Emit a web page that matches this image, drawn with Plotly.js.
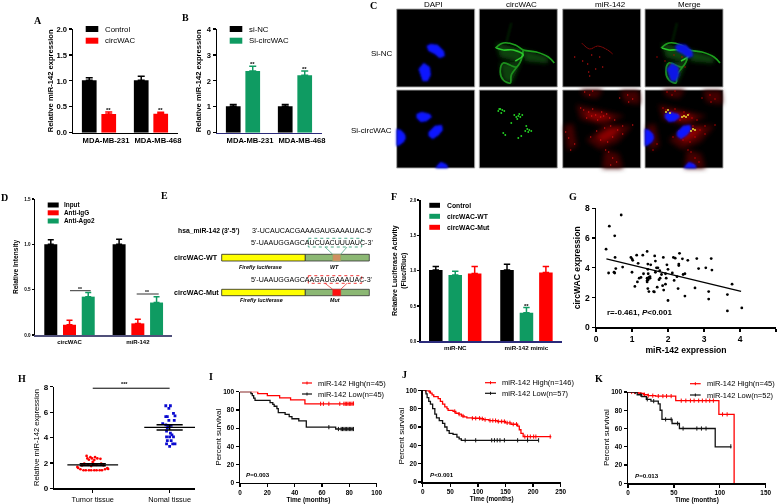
<!DOCTYPE html>
<html><head><meta charset="utf-8">
<script src="https://cdn.plot.ly/plotly-3.0.1.min.js"></script>
<style>html,body{margin:0;padding:0;background:#fff}#g{width:778px;height:504px;filter:blur(0.3px)}</style>
</head><body><div id="g"></div>
<script>
// ---------- data ----------
const cellLines=['MDA-MB-231','MDA-MB-468'];
const aControl=[1.01,1.01], aControlErr=[0.05,0.08];
const aCirc=[0.36,0.365], aCircErr=[0.04,0.03];
const bNC=[1.02,1.02], bNCErr=[0.07,0.07];
const bSi=[2.38,2.22], bSiErr=[0.18,0.16];
const dCats=['circWAC','miR-142'];
const dInput=[1.0,1.0], dInputErr=[0.05,0.055];
const dIgG=[0.113,0.128], dIgGErr=[0.05,0.045];
const dAgo=[0.423,0.358], dAgoErr=[0.047,0.065];
const fCats=['miR-NC','miR-142 mimic'];
const fCtrl=[1.01,1.01], fCtrlErr=[0.05,0.08];
const fWT=[0.94,0.405], fWTErr=[0.05,0.075];
const fMut=[0.96,0.975], fMutErr=[0.10,0.085];
const gX=[0.28,0.37,0.7,0.52,0.35,0.52,0.5,0.55,0.53,0.74,0.97,1.0,1.02,1.0,1.08,1.15,1.13,1.17,1.2,1.25,1.3,1.32,1.42,1.44,1.42,1.42,1.44,1.44,1.47,1.5,1.5,1.47,1.45,1.52,1.45,1.42,1.6,1.62,1.63,1.65,1.65,1.7,1.68,1.72,1.78,1.75,1.77,1.82,1.85,1.88,1.87,1.93,1.93,2.0,1.95,1.97,2.0,2.12,2.15,2.2,2.3,2.3,2.32,2.28,2.25,2.17,2.4,2.42,2.47,2.47,2.55,2.75,2.8,2.85,3.05,3.13,3.13,3.2,3.22,3.65,3.65,3.78,4.05];
const gY=[5.25,6.8,7.55,6.15,3.65,3.65,3.7,3.95,4.7,4.05,4.7,4.6,4.5,3.7,2.75,3.05,4.85,4.3,3.3,3.35,4.85,3.6,5.1,4.25,3.05,3.3,3.9,2.6,2.4,3.4,3.3,3.35,3.2,4.2,3.6,3.15,2.4,2.38,4.8,4.45,3.7,2.7,4.0,4.0,3.3,3.2,3.8,3.55,2.8,2.5,4.7,3.6,2.9,1.8,3.3,4.2,3.9,3.65,4.7,4.65,4.25,4.15,4.97,2.6,3.4,3.15,4.6,3.55,3.6,2.1,4.5,2.65,4.62,3.95,4.0,2.4,1.9,4.62,3.85,2.2,1.1,2.9,1.3];
const gFitX=[0.29,4.03], gFitY=[4.6,2.41];
const hCats=['Tumor tissue','Nomal tissue'];
const hTumorX=[-.12,-.09,-.05,-.02,.02,.05,.09,.12,-.16,.16,-.19,.19,-.2,.2,-.08,-.03,.03,-.07,-.01,.06,.1,-.05,.02,0,-.11,.11,-.14,.14,-.06,.05,-.02,.02];
const hTumor=[1.42,1.42,1.42,1.42,1.42,1.42,1.42,1.42,1.5,1.5,1.6,1.6,1.68,1.52,2.55,2.45,2.45,2.35,2.35,2.35,2.32,2.25,2.22,2.08,1.95,1.95,1.8,1.8,1.85,1.85,1.75,1.9];
const hNormalX=[-.05,.01,-.01,.05,-.05,-.03,.07,-.01,.06,-.09,-.05,-.02,.02,-.03,-.04,.01,.03,-.04,0,.05,-.03,.02,-.04,.04,.07,0];
const hNormal=[6.5,6.5,6.3,5.9,5.65,5.65,5.7,5.35,5.35,5.1,5.0,4.9,4.95,4.75,4.5,4.35,4.2,4.05,4.05,4.05,3.75,3.75,3.5,3.5,3.5,3.3];
const hMean=[1.85,4.8], hSem=[0.08,0.2];
const iHighT=[0,13,20,29,37,47.5,83], iHighS=[100,97.8,95.6,93.3,91.1,86.7,87];
const iLowT=[0,8,9,10,11,22,24,25,27,28,33,36,38,43,48.5,70,83], iLowS=[100,97.8,95.6,93,90.5,88,86,84,81.5,77,75,72.5,70.3,68,61,59,59];
const iHighC=[59,61,65,73,76,77,78,79,80,81,82,83], iLowC=[65,72,74,75,76,77,78,79,80,81,82,83];
const jHighT=[0,10,14,17,20,28,32,36,40,44,46,55,60,65,70,75,80,90,105,110,120,135,150,160,172,175,178,182,205,232];
const jHighS=[100,99,97,95,93,91,88,85,82,80,78,77,75,74,72,71,70,69.5,69,68,67,66,64.5,63,61,57,53,49.5,49.5,50];
const jLowT=[0,6,8,11,14,18,22,25,30,36,40,44,48,55,62,66,70,210];
const jLowS=[100,96,92,88,85,80,74,70,67,64,60,56,53,52,49,47,45.5,45.5];
const jHighC=[5,12,58,66,73,90,96,103,108,113,122,127,132,137,143,148,153,158,164,170,185,190,195,201,205,231];
const jLowC=[77,96,125,130,135,140,148,172,190,210];
const kHighT=[0,12,17,22,30,52,99,115.5,115.6], kHighS=[100,98.5,97,96,95.5,90.5,75.5,75.5,0];
const kLowT=[0,10,15,20,25,33,35,37,48,56,95,112], kLowS=[100,97,95,92,90,87,80,70,65.5,60,40,40.5];
const kHighC=[4,7,11,14,18,22,27,33,38,42,47,58,63,68,72,77,81,85,89,93,103,108];
const kLowC=[8,14,21,28,41,47,54,60,75,80,85,112];
// panel C: picture fragments, 0-78 inside each image
const dapiTop=[[30,37,34,35,41,36,47,42,48,47,43,49,38,45,32,42],[22,60,27,54,33,58,34,66,31,72,26,72,24,66]];
const dapiBot=[[20,24,25,22,33,24,35,27,30,31,24,32,20,28],[32,42,38,36,45,35,46,40,42,45,36,49,32,46],[0,39,4,40,8,44,9,48,7,52,3,55,0,56],[39,78,41,75,44,72,49,74,51,76,51,78]];
const greenHazeTop=[[17,34,44,41,41,53,21,48],[21,54,41,54,32,74,24,71],[44,41,69,48,68,54,46,52]];
const greenTopA=[16,39,24,34,36,36,44,41,57,43,69,48,75,54];
const greenTopB=[44,41,41,53,32,66,31,74,24,71,21,63,24,54,37,58,41,53];
const greenTopC=[17,39,24,41,34,41,44,46,36,52];
const greenTopD=[32,14,27,34];
const greenBotX=[19,21,23,25,22,20,35,37,39,41,43,38,40,46,48,50,52,49,39,42,24,26,32,47];
const greenBotY=[21,19,20,21,23,19,25,27,26,27,25,29,24,41,39,40,41,42,48,46,43,45,33,36];
const mergeX=[21,23,25,37,39,41,43,46,48,50];
const mergeY=[22,20,23,27,26,27,25,41,39,40];
const redTopLine=[19,34,27,40,35,37,45,41,50,45];
const redTopDotsX=[25,33,26,12,37,27,40,20,29];
const redTopDotsY=[55,60,63,48,48,67,58,52,46];
const redCells=[[14,15,35,20,61,26,40,35,18,29],[24,50,44,35,69,36,55,52,37,59],[58,1,76,1,77,14,62,12],[2,36,10,34,14,56,5,60],[42,60,56,64,60,78,40,78],[18,0,40,0,34,8,22,6]];
const redCores=[[22,22,40,24,50,28,35,30,25,27],[34,47,46,39,58,38,50,47,40,52]];
const redBotX=[18,21,26,29,33,38,41,44,47,35,30,24,39,52,28,34,42,48,55,60,38,45,50,3,6,12,8,46,50,54,48,65,70,66,22,30,27,70,60,43,57];
const redBotY=[18,20,22,26,25,27,26,24,28,30,19,28,22,30,47,41,38,36,40,36,50,52,47,42,48,54,60,62,68,72,75,5,9,12,2,1,5,35,44,60,8];
// ---------- helpers ----------
const W=778,H=504,FONT='Liberation Sans, Arial, sans-serif',SERIF='Liberation Serif, serif';
const RED='#ff0000',GREEN='#0f9b62',BLACK='#000000';
const layout={width:W,height:H,margin:{l:0,r:0,t:0,b:0,pad:0},paper_bgcolor:'#fff',plot_bgcolor:'rgba(0,0,0,0)',barmode:'overlay',showlegend:false,shapes:[],annotations:[],font:{family:FONT,color:'#000'}};
const traces=[];
const nm=(p,i)=>p+(i===1?'':i);
function panel(i,box,xo,yo){
  const [x0,x1,yt,yb]=box;
  const base={showgrid:false,zeroline:false,showline:true,linecolor:'#000',linewidth:1.5,ticks:'outside',ticklen:3,tickwidth:1.2,tickcolor:'#000'};
  layout[nm('xaxis',i)]=Object.assign({},base,{domain:[x0/W,x1/W],anchor:nm('y',i)},xo);
  layout[nm('yaxis',i)]=Object.assign({},base,{domain:[1-yb/H,1-yt/H],anchor:nm('x',i)},yo);
}
const tf=(s,bold,extra)=>Object.assign({family:FONT,size:s,color:'#000',weight:bold?700:400},extra||{});
const ttl=(text,s,bold,standoff)=>({text,font:tf(s,bold),standoff});
function ann(x,y,text,s,o){
  o=o||{};
  layout.annotations.push({xref:'paper',yref:'paper',x:x/W,y:1-y/H,text,showarrow:false,xanchor:o.a||'left',yanchor:'middle',borderpad:0,
    font:{family:o.f||FONT,size:s,color:o.c||'#000',weight:o.b?700:400,style:o.i?'italic':'normal'}});
}
function rect(x0,y0,x1,y1,fill,line,lw,dash){
  layout.shapes.push({type:'rect',xref:'x10',yref:'y10',x0,y0,x1,y1,fillcolor:fill,layer:'below',line:{color:line||fill,width:lw==null?0:lw,dash:dash||'solid'}});
}
function seg(x0,y0,x1,y1,c,w,dash){
  layout.shapes.push({type:'line',xref:'x10',yref:'y10',x0,y0,x1,y1,layer:'below',line:{color:c,width:w,dash:dash||'solid'}});
}
function bars(i,cats,series,spacing,width,capw){
  const n=series.length;
  series.forEach((s,k)=>{
    traces.push({type:'bar',name:s.name,x:cats,y:s.v,xaxis:nm('x',i),yaxis:nm('y',i),width,offset:(k-(n-1)/2)*spacing-width/2,
      marker:{color:s.c,line:{width:0}},
      error_y:{type:'data',symmetric:false,array:s.e,arrayminus:s.e.map(()=>0),color:s.c,thickness:1.5,width:capw}});
  });
}
function legendSwatch(x0,x1,y,h,c,tx,text,s,b){rect(x0,y-h/2,x1,y+h/2,c);ann(tx,y,text,s,{b});}
function km(i,name,T,S,C,color){
  const at=t=>{let v=S[0];for(let k=0;k<T.length;k++){if(T[k]<=t)v=S[k];}return v;};
  traces.push({type:'scatter',mode:'lines',name,x:T,y:S,xaxis:nm('x',i),yaxis:nm('y',i),line:{color,width:1.3,shape:'hv'}});
  traces.push({type:'scatter',mode:'markers',name:name+' censored',x:C,y:C.map(at),xaxis:nm('x',i),yaxis:nm('y',i),marker:{symbol:'line-ns',size:3,color,line:{color,width:1}}});
}
function kmLegend(x0,x1,y,c,tx,text){seg(x0,y,x1,y,c,1.2);seg((x0+x1)/2,y-1.5,(x0+x1)/2,y+1.5,c,1);ann(tx,y,text,7.5);}
// ---------- A ----------
panel(1,[73,178,29,132.7],{type:'category',range:[-0.5,1.52],ticks:'',tickfont:tf(7.6,true),ticklabelshift:7},
  {range:[0,2],tickvals:[0,.5,1,1.5,2],ticktext:['0.0','0.5','1.0','1.5','2.0'],tickfont:tf(7.6,true),title:ttl('Relative miR-142 expression',7.6,true,2)});
bars(1,cellLines,[{name:'Control',v:aControl,e:aControlErr,c:BLACK},{name:'circWAC',v:aCirc,e:aCircErr,c:RED}],.375,.283,3.5);
legendSwatch(85.7,98.3,29,6,BLACK,103.7,'Control',7.8);
legendSwatch(85.7,98.3,40.7,6,RED,103.7,'circWAC',7.8);
ann(108.5,110,'**',6,{a:'center',b:true});ann(160.5,110,'**',6,{a:'center',b:true});
// ---------- B ----------
panel(2,[217,322,29,132.7],{type:'category',range:[-0.5,1.52],ticks:'',tickfont:tf(7.6,true),ticklabelshift:7,linecolor:'#2a2a7a'},
  {range:[0,4],tickvals:[0,1,2,3,4],tickfont:tf(7.6,true),title:ttl('Relative miR-142 expression',7.6,true,4)});
bars(2,cellLines,[{name:'si-NC',v:bNC,e:bNCErr,c:BLACK},{name:'Si-circWAC',v:bSi,e:bSiErr,c:GREEN}],.375,.283,3.5);
legendSwatch(229.7,242.3,29,6,BLACK,248,'si-NC',7.8);
legendSwatch(229.7,242.3,40.7,6,GREEN,248,'Si-circWAC',7.8);
ann(252.5,64,'**',6,{a:'center',b:true});ann(304.5,69,'**',6,{a:'center',b:true});
// ---------- D ----------
panel(3,[35,172,199,335],{type:'category',range:[-0.505,1.5],ticks:'',tickfont:tf(6,true),linecolor:'#50507a'},
  {range:[0,1.5],tickvals:[0,.5,1,1.5],ticktext:['0.0','0.5','1.0','1.5'],tickfont:tf(4.6,true),ticklen:2,title:ttl('Relative Intensity',6.6,true,5)});
bars(3,dCats,[{name:'Input',v:dInput,e:dInputErr,c:BLACK},{name:'Anti-IgG',v:dIgG,e:dIgGErr,c:RED},{name:'Anti-Ago2',v:dAgo,e:dAgoErr,c:GREEN}],.274,.19,3);
legendSwatch(47.7,58.7,205,5,BLACK,63,'Input',6.4,true);
legendSwatch(47.7,58.7,212.8,5,RED,63,'Anti-IgG',6.4,true);
legendSwatch(47.7,58.7,221,5,GREEN,63,'Anti-Ago2',6.4,true);
seg(70,290.7,90.7,290.7,'#333',1);seg(136.7,294,158.7,294,'#333',1);
ann(80,288.5,'**',5,{a:'center',b:true});ann(146.7,292,'**',5,{a:'center',b:true});
// ---------- F ----------
panel(4,[420.7,561.7,200,341.3],{type:'category',range:[-0.485,1.495],ticks:'',tickfont:tf(6.2,true),linecolor:'#2a2a7a'},
  {range:[0,2],tickvals:[0,.5,1,1.5,2],ticktext:['0.0','0.5','1.0','1.5','2.0'],tickfont:tf(4.6,true),ticklen:2,title:ttl('Relative Luciferase Activity<br>(Fluc/Rluc)',7,true,2)});
bars(4,fCats,[{name:'Control',v:fCtrl,e:fCtrlErr,c:BLACK},{name:'circWAC-WT',v:fWT,e:fWTErr,c:GREEN},{name:'circWAC-Mut',v:fMut,e:fMutErr,c:RED}],.273,.19,3.2);
legendSwatch(429.3,440,205.3,5,BLACK,446,'Control',6.8,true);
legendSwatch(429.3,440,216.3,5,GREEN,446,'circWAC-WT',6.8,true);
legendSwatch(429.3,440,227.3,5,RED,446,'circWAC-Mut',6.8,true);
ann(526,305.5,'**',6,{a:'center',b:true});
// ---------- G ----------
panel(5,[596,776,208.3,327.3],{range:[0,5],tickvals:[0,1,2,3,4,5],tickfont:tf(8.5,true),title:ttl('miR-142 expression',8.6,true,4)},
  {range:[0,8],tickvals:[0,2,4,6,8],tickfont:tf(8.5,true),title:ttl('circWAC expression',8.6,true,3)});
traces.push({type:'scatter',mode:'markers',name:'samples',x:gX,y:gY,xaxis:'x5',yaxis:'y5',marker:{color:'#000',size:2.8}});
traces.push({type:'scatter',mode:'lines',name:'fit',x:gFitX,y:gFitY,xaxis:'x5',yaxis:'y5',line:{color:'#000',width:1.3}});
ann(606,312.7,'r=-0.461, <i>P</i><0.001',8,{b:true});
// ---------- H ----------
panel(6,[54.3,195,386.7,488.3],{range:[-0.5,1.33],tickvals:[0,1],ticktext:hCats,tickfont:tf(7.4,false)},
  {range:[0,8],tickvals:[0,2,4,6,8],tickfont:tf(8,true),title:ttl('Relative miR-142 expression',7.6,false,3)});
traces.push({type:'scatter',mode:'markers',name:'Tumor tissue',x:hTumorX,y:hTumor,xaxis:'x6',yaxis:'y6',marker:{color:RED,size:2.7,symbol:'circle'}});
traces.push({type:'scatter',mode:'markers',name:'Nomal tissue',x:hNormalX.map(v=>v+1),y:hNormal,xaxis:'x6',yaxis:'y6',marker:{color:'#0a0ad0',size:2.8,symbol:'square'}});
[0,1].forEach(c=>{
  const m=hMean[c],s=hSem[c];
  traces.push({type:'scatter',mode:'lines',name:'mean',x:[c-.33,c+.33],y:[m,m],xaxis:'x6',yaxis:'y6',line:{color:'#000',width:1.2}});
  traces.push({type:'scatter',mode:'lines',name:'sem',x:[c-.17,c+.17,null,c-.17,c+.17,null,c,c],y:[m+s,m+s,null,m-s,m-s,null,m-s,m+s],xaxis:'x6',yaxis:'y6',line:{color:'#000',width:1.5}});
});
traces.push({type:'scatter',mode:'lines',name:'bracket',x:[0,1],y:[7.88,7.88],xaxis:'x6',yaxis:'y6',line:{color:'#000',width:1},cliponaxis:false});
ann(124,384,'***',5.5,{a:'center',b:true});
// ---------- I ----------
panel(7,[240,376.7,391.7,482.7],{range:[0,100],tickvals:[0,20,40,60,80,100],tickfont:tf(6.4,true),title:ttl('Time (months)',6.4,true,2)},
  {range:[0,100],tickvals:[0,20,40,60,80,100],tickfont:tf(6.6,true),title:ttl('Percent survival',8,false,0)});
km(7,'miR-142 High(n=45)',iHighT,iHighS,iHighC,RED);
km(7,'miR-142 Low(n=45)',iLowT,iLowS,iLowC,'#111');
kmLegend(302,312,383,RED,317,'miR-142 High(n=45)');
kmLegend(302,312,394,'#111',317,'miR-142 Low(n=45)');
ann(245,474.7,'<i>P</i>=0.003',6.2,{b:true});
// ---------- J ----------
panel(8,[422.7,560.7,390.3,482],{range:[0,250],tickvals:[0,50,100,150,200,250],tickfont:tf(6.4,true),title:ttl('Time (months)',6.4,true,2)},
  {range:[0,100],tickvals:[0,20,40,60,80,100],tickfont:tf(6.6,true),title:ttl('Percent survival',8,false,0)});
km(8,'miR-142 High(n=146)',jHighT,jHighS,jHighC,RED);
km(8,'miR-142 Low(n=57)',jLowT,jLowS,jLowC,'#111');
kmLegend(485,496,382.7,RED,501,'miR-142 High(n=146)');
kmLegend(485,496,393.3,'#111',501,'miR-142 Low(n=57)');
ann(429,474,'<i>P</i><0.001',6.2,{b:true});
// ---------- K ----------
panel(9,[628,765.7,392,483.3],{range:[0,150],tickvals:[0,50,100,150],tickfont:tf(6.4,true),title:ttl('Time (months)',6.4,true,2)},
  {range:[0,100],tickvals:[0,20,40,60,80,100],tickfont:tf(6.6,true),title:ttl('Percent survival',8,false,0)});
km(9,'miR-142 High(n=45)',kHighT,kHighS,kHighC,RED);
km(9,'miR-142 Low(n=52)',kLowT,kLowS,kLowC,'#111');
kmLegend(690,700.7,383.7,RED,706,'miR-142 High(n=45)');
kmLegend(690,700.7,395,'#111',706,'miR-142 Low(n=52)');
ann(634,475,'<i>P</i>=0.013',6.2,{b:true});
// ---------- pixel-space overlay for panels C and E ----------
layout.xaxis10={domain:[0,1],range:[0,W],visible:false,anchor:'y10'};
layout.yaxis10={domain:[0,1],range:[H,0],visible:false,anchor:'x10'};
const colX=[396.7,479.3,562.7,645], rowY=[9,90], IM=78;
colX.forEach(x=>rowY.forEach(y=>rect(x,y,x+IM,y+IM,'#000','#a8a8a8',0.9)));
const overlayBlur=[];
function poly(ox,oy,list,color,name,blur){
  const xs=[],ys=[];
  list.forEach(p=>{for(let k=0;k<p.length;k+=2){xs.push(ox+p[k]);ys.push(oy+p[k+1]);}xs.push(ox+p[0]);ys.push(oy+p[1]);xs.push(null);ys.push(null);});
  traces.push({type:'scatter',mode:'lines',name,x:xs,y:ys,fill:'toself',fillcolor:color,line:{color,width:.5},xaxis:'x10',yaxis:'y10',connectgaps:false});
  overlayBlur.push(blur);
}
function path(ox,oy,p,color,w,name,blur){
  const xs=[],ys=[];for(let k=0;k<p.length;k+=2){xs.push(ox+p[k]);ys.push(oy+p[k+1]);}
  traces.push({type:'scatter',mode:'lines',name,x:xs,y:ys,line:{color,width:w,shape:'spline'},xaxis:'x10',yaxis:'y10'});
  overlayBlur.push(blur);
}
function dots(ox,oy,X,Y,color,s,name,blur){
  traces.push({type:'scatter',mode:'markers',name,x:X.map(v=>ox+v),y:Y.map(v=>oy+v),marker:{color,size:s},xaxis:'x10',yaxis:'y10'});
  overlayBlur.push(blur);
}
function greenTop(ox,oy){
  poly(ox,oy,greenHazeTop,'#0c420c','circWAC',2);
  path(ox,oy,greenTopD,'#0d400d',1,'circWAC',1);
  path(ox,oy,greenTopA,'#1fa01f',1.6,'circWAC',.7);
  path(ox,oy,greenTopB,'#1c8f1c',1.8,'circWAC',.7);
  path(ox,oy,greenTopC,'#2ac82a',1.6,'circWAC',.7);
}
function redBot(ox,oy){
  poly(ox,oy,redCells,'#420000','miR-142',2.6);
  poly(ox,oy,redCores,'#8a0000','miR-142',2);
  dots(ox,oy,redBotX,redBotY,'#e01010',1.4,'miR-142',.4);
}
poly(colX[0],rowY[0],dapiTop,'#0a14ff','DAPI',1);
poly(colX[0],rowY[1],dapiBot,'#0a14ff','DAPI',1);
greenTop(colX[1],rowY[0]);
dots(colX[1],rowY[1],greenBotX,greenBotY,'#22d022',1.9,'circWAC',.5);
path(colX[2],rowY[0],redTopLine,'#7a0a0a',1,'miR-142',.6);
dots(colX[2],rowY[0],redTopDotsX,redTopDotsY,'#c01010',1.5,'miR-142',.4);
redBot(colX[2],rowY[1]);
greenTop(colX[3],rowY[0]);
dots(colX[3],rowY[0],redTopDotsX,redTopDotsY,'#c01010',1.4,'miR-142',.4);
poly(colX[3],rowY[0],dapiTop,'#0a14e6','DAPI',1);
redBot(colX[3],rowY[1]);
poly(colX[3],rowY[1],dapiBot,'#0a14ff','DAPI',1);
dots(colX[3],rowY[1],mergeX,mergeY,'#e6e030',2,'merge',.5);
ann(434,4.7,'DAPI',8);ann(521,4.7,'circWAC',8);ann(610,5,'miR-142',8);ann(689,5,'Merge',8);
layout.annotations.slice(-4).forEach(a=>a.xanchor='center');
ann(394,54,'Si-NC',8,{a:'right'});ann(393,131,'Si-circWAC',8,{a:'right'});
// panel E
ann(176.7,231,"hsa_miR-142 (3'-5')",6.8,{b:true});
ann(251,231,"3'-UCAUCACGAAAGAUGAAAUAC-5'",7.1);
ann(249.5,243,"5'-UAAUGGAGCAUCUACUUUAUC-3'",7.1);
ann(249.5,280,"5'-UAAUGGAGCAAGAUGAAAUAC-3'",7.1);
ann(173,257.7,'circWAC-WT',7.2,{b:true});
ann(173,292.3,'circWAC-Mut',7.2,{b:true});
ann(260.7,267,'Firefly luciferase',5.4,{a:'center',b:true,i:true});
ann(334,267,'WT',5.4,{a:'center',b:true,i:true});
ann(261.7,300.3,'Firefly luciferase',5.4,{a:'center',b:true,i:true});
ann(335,300,'Mut',5.4,{a:'center',b:true,i:true});
rect(221.7,254.3,305.3,261,'#ffff00','#222',0.8);
rect(305.3,254.3,369.3,261,'#8cb874','#333',0.8);
rect(332.7,254.3,340.7,261,'#cf8f60','#8a6',0.5);
rect(221.7,289.3,305.3,295.7,'#ffff00','#222',0.8);
rect(305.3,289.3,369.3,295.7,'#8cb874','#333',0.8);
rect(332.7,289.3,340.7,295.7,'#ff1010','#c33',0.5);
rect(308.3,238.3,361.7,247,'rgba(0,0,0,0)','#3aa07a',0.9,'dot');
rect(308.3,275.7,361.7,283.3,'rgba(0,0,0,0)','#ee2020',0.9,'dot');
seg(325,247,332.7,254.3,'#3aa07a',0.7);seg(347,247,340.7,254.3,'#3aa07a',0.7);
seg(325,283.3,332.7,289.3,'#ee2020',0.7);seg(347,283.3,340.7,289.3,'#ee2020',0.7);
// panel letters
[['A',33,20.7],['B',181,17.7],['C',369,6],['D',0,198],['E',160,196],['F',390,196.7],['G',568,196.5],['H',17,378],['I',208,376],['J',401,374],['K',594,378]]
  .forEach(l=>ann(l[1],l[2],l[0],10,{f:SERIF,b:true}));

Plotly.newPlot('g',traces,layout,{displayModeBar:false,staticPlot:true}).then(()=>{
  const svg=document.querySelector('#g .main-svg');
  const NS='http://www.w3.org/2000/svg';
  let defs=svg.querySelector('defs');
  const ids={};
  overlayBlur.forEach(b=>{
    if(ids[b])return;
    const id='soft'+String(b).replace('.','_');ids[b]=id;
    const f=document.createElementNS(NS,'filter');
    f.setAttribute('id',id);f.setAttribute('x','-40%');f.setAttribute('y','-40%');f.setAttribute('width','180%');f.setAttribute('height','180%');
    const g=document.createElementNS(NS,'feGaussianBlur');g.setAttribute('stdDeviation',b);
    f.appendChild(g);defs.appendChild(f);
  });
  const nodes=document.querySelectorAll('.subplot.x10y10 .scatterlayer .trace');
  nodes.forEach((n,i)=>{if(overlayBlur[i])n.setAttribute('filter','url(#'+ids[overlayBlur[i]]+')');});
});
</script></body></html>
